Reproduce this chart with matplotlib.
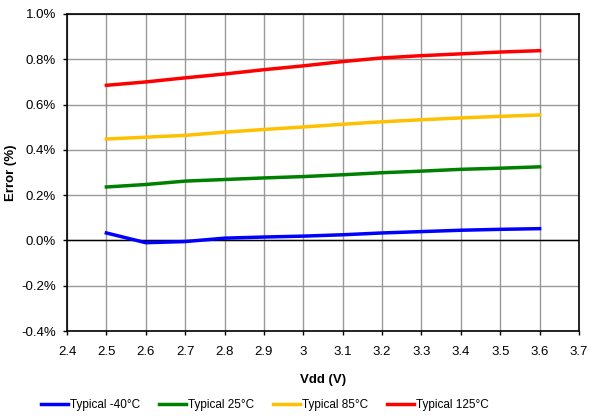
import matplotlib.pyplot as plt
from matplotlib.ticker import FuncFormatter, MultipleLocator

plt.rcParams['font.family'] = ['Liberation Sans', 'DejaVu Sans']

vdd = [2.5, 2.6, 2.7, 2.8, 2.9, 3.0, 3.1, 3.2, 3.3, 3.4, 3.5, 3.6]
err_m40 = [0.033, -0.010, -0.005, 0.010, 0.015, 0.019, 0.025, 0.033, 0.039, 0.045, 0.049, 0.052]
err_25 = [0.236, 0.247, 0.262, 0.269, 0.276, 0.282, 0.290, 0.299, 0.306, 0.314, 0.319, 0.325]
err_85 = [0.448, 0.456, 0.464, 0.478, 0.490, 0.501, 0.513, 0.524, 0.533, 0.541, 0.548, 0.554]
err_125 = [0.685, 0.700, 0.718, 0.735, 0.754, 0.771, 0.790, 0.806, 0.816, 0.824, 0.832, 0.838]

series = [
    ('Typical -40°C', err_m40, '#0000ff'),
    ('Typical 25°C', err_25, '#008000'),
    ('Typical 85°C', err_85, '#ffc000'),
    ('Typical 125°C', err_125, '#ff0000'),
]

fig = plt.figure(figsize=(5.91, 4.16), dpi=100)
ax = fig.add_axes([67 / 591, 1 - 331 / 416, 512 / 591, 317 / 416])

for label, vals, color in series:
    ax.plot(vdd, vals, color=color, lw=2.5, label=label, zorder=3)

ax.axhline(0, color='black', lw=1, zorder=2)
ax.set_xlim(2.4, 3.7)
ax.set_ylim(-0.4, 1.0)
ax.xaxis.set_major_locator(MultipleLocator(0.1))
ax.yaxis.set_major_locator(MultipleLocator(0.2))
ax.xaxis.set_major_formatter(FuncFormatter(lambda v, p: '3' if abs(v - 3.0) < 1e-6 else f'{v:.1f}'))
ax.yaxis.set_major_formatter(FuncFormatter(lambda v, p: f'{v:.1f}%'))
ax.grid(True, color='#999999', lw=1)
ax.set_axisbelow(True)
for s in ax.spines.values():
    s.set_color('black')
    s.set_linewidth(1.2)
ax.tick_params(length=3, width=1, direction='out', labelsize=9.5, pad=5)
ax.tick_params(axis='x', pad=8)

ax.set_xlabel('Vdd (V)', fontweight='bold', fontsize=9.5, labelpad=11)
ax.set_ylabel('Error (%)', fontweight='bold', fontsize=9.5)
ax.yaxis.set_label_coords(-50 / 512, 0.5)

fig.legend(loc='center', ncol=4, frameon=False, fontsize=8.5,
           bbox_to_anchor=(265 / 591, 1 - 405 / 416), handlelength=2.3, handletextpad=0.15,
           columnspacing=1.6)

fig.savefig('out.png', dpi=100)
